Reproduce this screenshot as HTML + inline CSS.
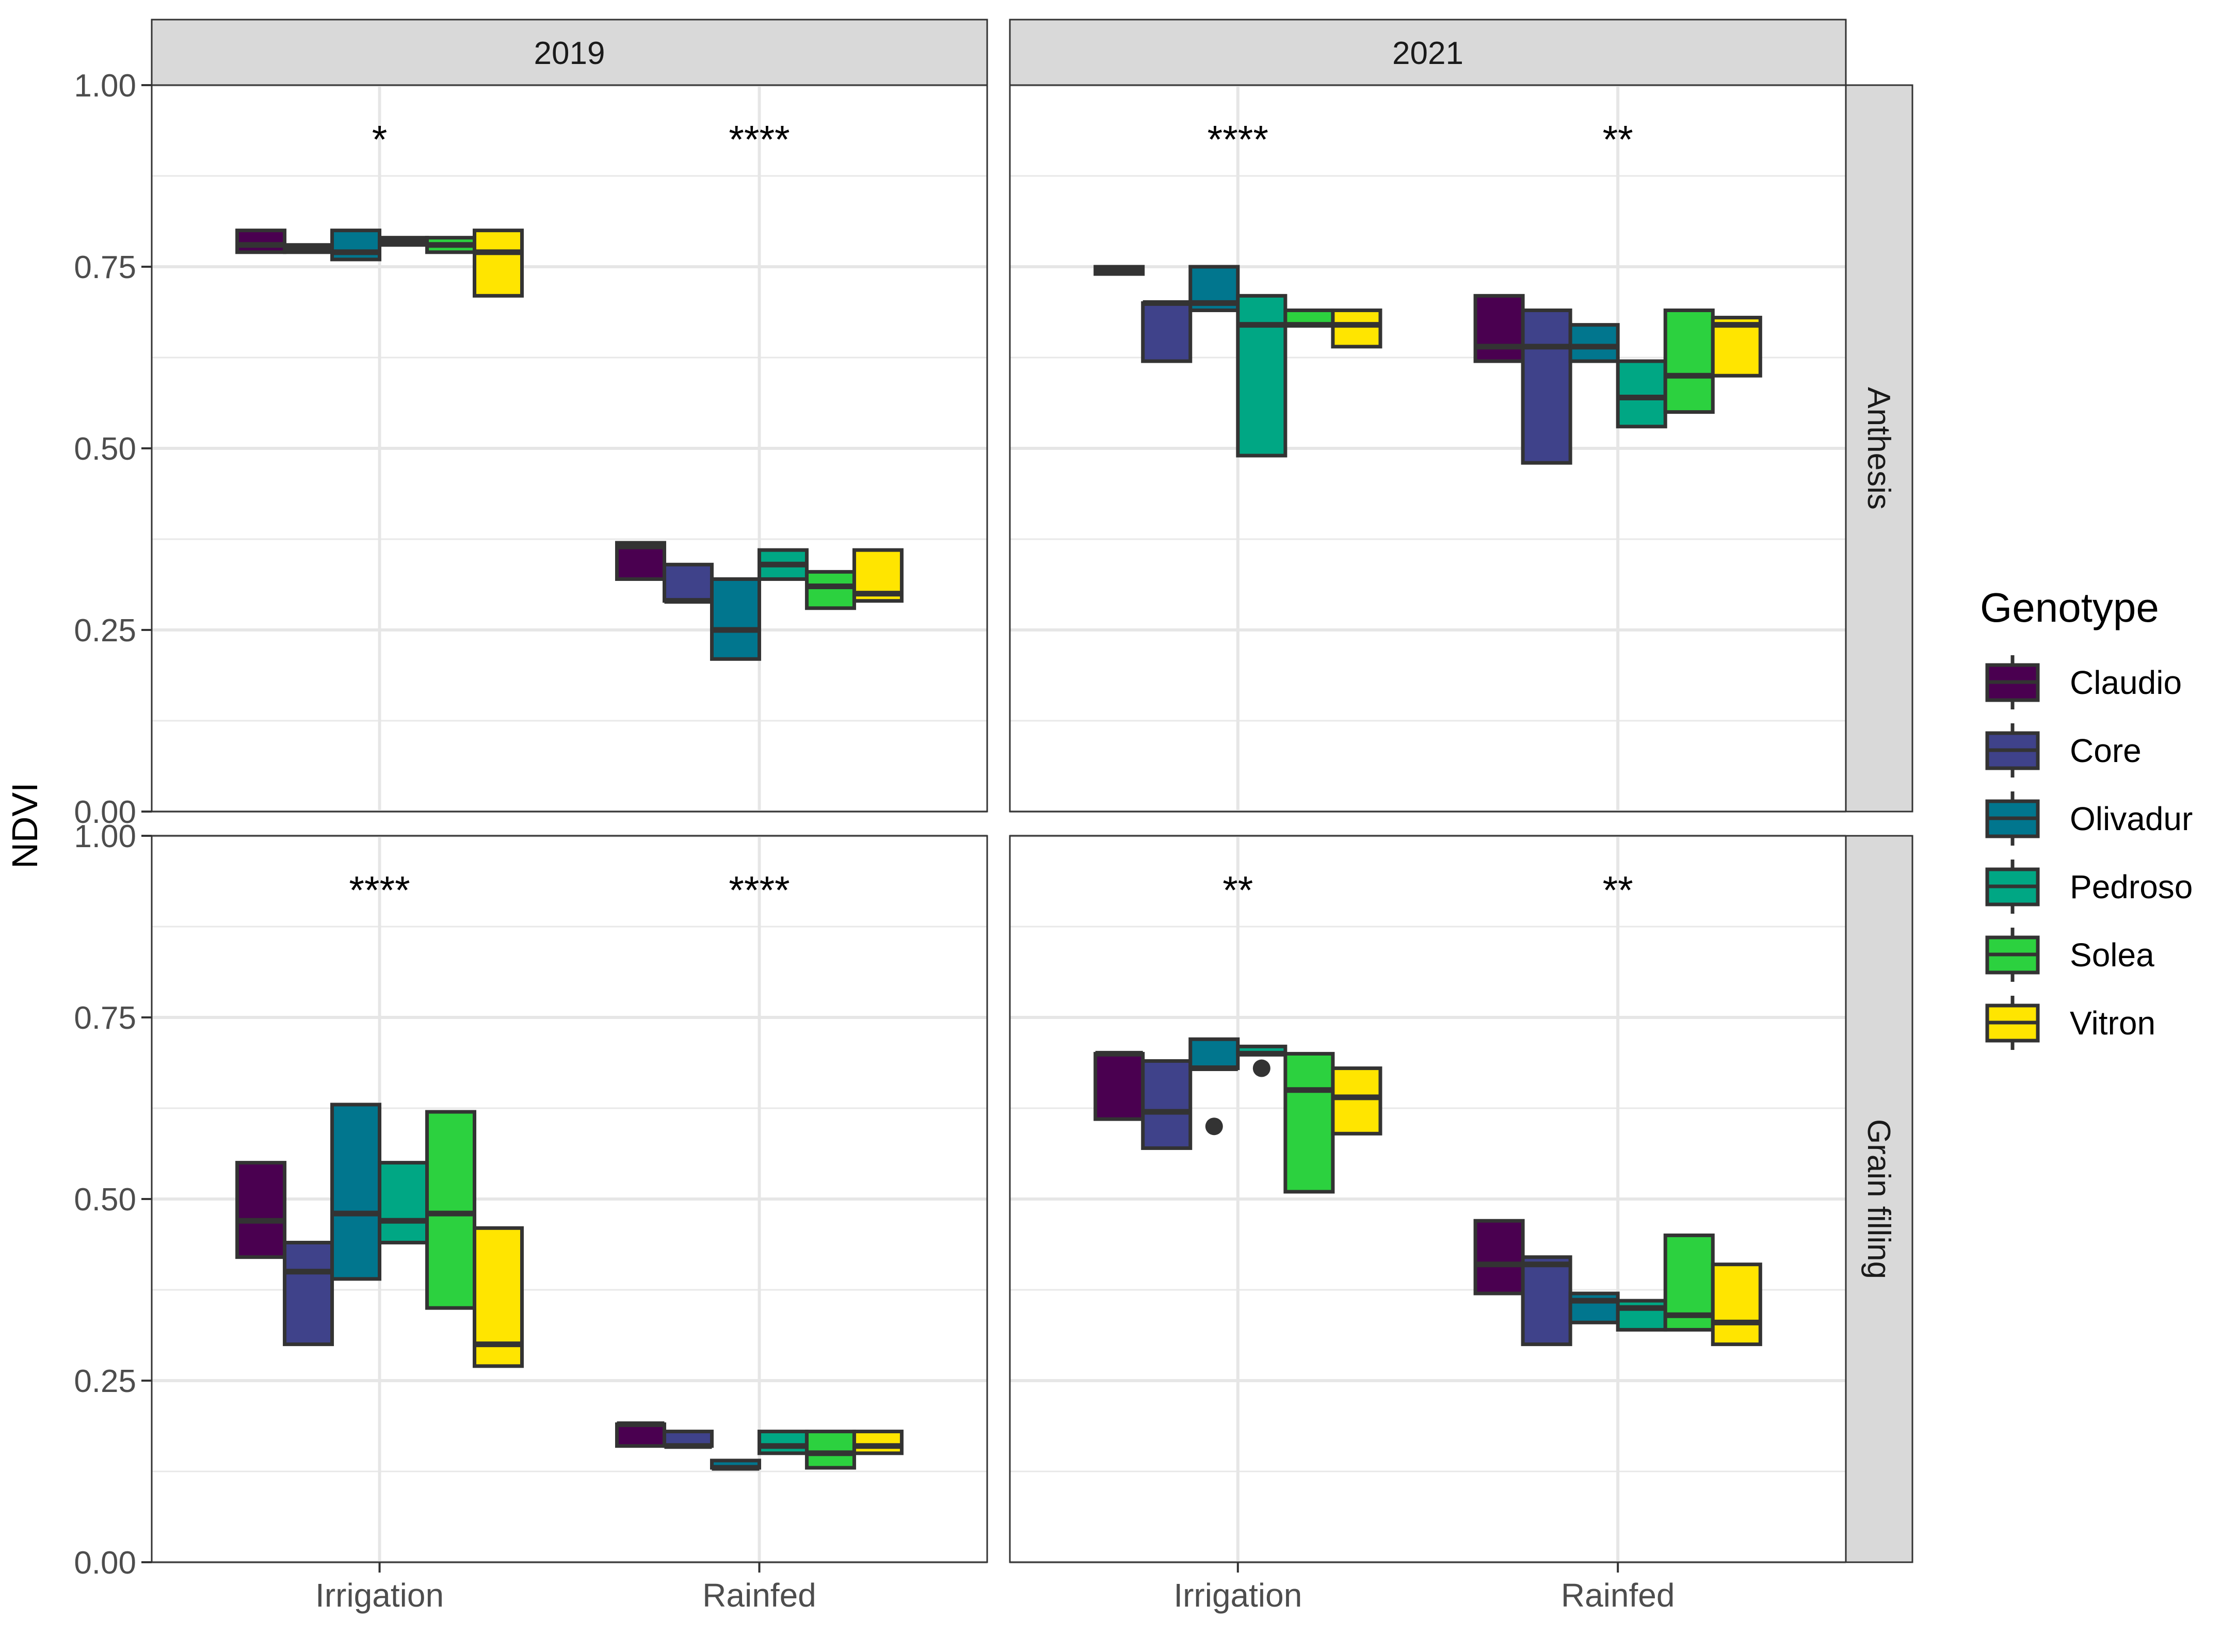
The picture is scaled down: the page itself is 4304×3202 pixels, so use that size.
<!DOCTYPE html>
<html><head><meta charset="utf-8">
<style>
html,body{margin:0;padding:0;background:#fff;}
svg{display:block;font-family:"Liberation Sans",Arial,sans-serif;}
</style></head>
<body>
<svg id="chart" width="4304" height="3202" viewBox="0 0 4304 3202" xmlns="http://www.w3.org/2000/svg"></svg>
<script>
const genotypes = ["Claudio","Core","Olivadur","Pedroso","Solea","Vitron"];
const colors = ["#4a0050","#3f428a","#01768e","#00a784","#2cd13f","#ffe500"];
const treatments = ["Irrigation","Rainfed"];
const years = ["2019","2021"];
const stages = ["Anthesis","Grain filling"];
const yTicks = [0, 0.25, 0.5, 0.75, 1.0];
const yTickLabels = ["0.00","0.25","0.50","0.75","1.00"];
// [q1, median, q3] per genotype
const a2019Irr = [[0.77,0.78,0.80],[0.77,0.775,0.78],[0.76,0.77,0.80],[0.78,0.785,0.79],[0.77,0.78,0.79],[0.71,0.77,0.80]];
const a2019Rain = [[0.32,0.365,0.37],[0.29,0.29,0.34],[0.21,0.25,0.32],[0.32,0.34,0.36],[0.28,0.31,0.33],[0.29,0.30,0.36]];
const a2021Irr = [[0.74,0.745,0.75],[0.62,0.70,0.70],[0.69,0.70,0.75],[0.49,0.67,0.71],[0.67,0.67,0.69],[0.64,0.67,0.69]];
const a2021Rain = [[0.62,0.64,0.71],[0.48,0.64,0.69],[0.62,0.64,0.67],[0.53,0.57,0.62],[0.55,0.60,0.69],[0.60,0.67,0.68]];
const g2019Irr = [[0.42,0.47,0.55],[0.30,0.40,0.44],[0.39,0.48,0.63],[0.44,0.47,0.55],[0.35,0.48,0.62],[0.27,0.30,0.46]];
const g2019Rain = [[0.16,0.19,0.19],[0.16,0.16,0.18],[0.13,0.13,0.14],[0.15,0.16,0.18],[0.13,0.15,0.18],[0.15,0.16,0.18]];
const g2021Irr = [[0.61,0.70,0.70],[0.57,0.62,0.69],[0.68,0.68,0.72],[0.70,0.70,0.71],[0.51,0.65,0.70],[0.59,0.64,0.68]];
const g2021Rain = [[0.37,0.41,0.47],[0.30,0.41,0.42],[0.33,0.36,0.37],[0.32,0.35,0.36],[0.32,0.34,0.45],[0.30,0.33,0.41]];
// outliers: [genotypeIndex, value]
const g2021IrrOutliers = [[2,0.60],[3,0.68]];
const sig2019A = ["*","****"], sig2021A = ["****","**"], sig2019G = ["****","****"], sig2021G = ["**","**"];

const NS="http://www.w3.org/2000/svg";
const svg=document.getElementById('chart');
function mk(tag,attrs,parent){const e=document.createElementNS(NS,tag);for(const k in attrs)e.setAttribute(k,attrs[k]);(parent||svg).appendChild(e);return e;}

const colX=[[294,1913],[1957,3577]];
const rowY=[[165,1573],[1620,3028]];
const panels=[
 {r:0,c:0,data:[a2019Irr,a2019Rain],sig:sig2019A,out:[[],[]]},
 {r:0,c:1,data:[a2021Irr,a2021Rain],sig:sig2021A,out:[[],[]]},
 {r:1,c:0,data:[g2019Irr,g2019Rain],sig:sig2019G,out:[[],[]]},
 {r:1,c:1,data:[g2021Irr,g2021Rain],sig:sig2021G,out:[g2021IrrOutliers,[]]}
];

panels.forEach(p=>{
  const [x0,x1]=colX[p.c],[y0,y1]=rowY[p.r];
  const xs=v=>x0+(v-0.4)/2.2*(x1-x0);
  const ys=v=>y1-v*(y1-y0);
  const g=mk('g',{});
  
  
  mk('rect',{x:x0,y:y0,width:x1-x0,height:y1-y0,fill:'#fff'},g);
  [0.125,0.375,0.625,0.875].forEach(v=>mk('line',{x1:x0,x2:x1,y1:ys(v),y2:ys(v),stroke:'#e8e8e8','stroke-width':3},g));
  yTicks.forEach(v=>{const l=mk('line',{x1:x0,x2:x1,y1:ys(v),y2:ys(v),stroke:'#e6e6e6','stroke-width':6},g);
    });
  [1,2].forEach(v=>mk('line',{x1:xs(v),x2:xs(v),y1:y0,y2:y1,stroke:'#e6e6e6','stroke-width':6},g));
  p.data.forEach((grp,ti)=>{
    const bw=0.75/6;
    grp.forEach((b,gi)=>{
      const cx=ti+1-0.375+bw*(gi+0.5);
      const bx=xs(cx-bw/2),bx2=xs(cx+bw/2);
      const r=mk('rect',{x:bx,y:ys(b[2]),width:bx2-bx,height:Math.max(ys(b[0])-ys(b[2]),1),fill:colors[gi],stroke:'#333','stroke-width':7},g);
      
      
      mk('line',{x1:bx,x2:bx2,y1:ys(b[1]),y2:ys(b[1]),stroke:'#333','stroke-width':11},g);
    });
    (p.out[ti]||[]).forEach(o=>{
      const cx=ti+1-0.375+bw*(o[0]+0.5);
      const c=mk('circle',{cx:xs(cx),cy:ys(o[1]),r:17,fill:'#333'},g);
      
    });
    const t=mk('text',{x:xs(ti+1),y:ys(0.928)+30,'text-anchor':'middle','font-size':76,fill:'#000'},g);
    t.textContent=p.sig[ti];
    
  });
  mk('rect',{x:x0,y:y0,width:x1-x0,height:y1-y0,fill:'none',stroke:'#333','stroke-width':3},g);
  if(p.c===0){yTicks.forEach((v,i)=>{
    mk('line',{x1:x0-20,x2:x0,y1:ys(v),y2:ys(v),stroke:'#333','stroke-width':4});
    const t=mk('text',{x:x0-30,y:ys(v)+22,'text-anchor':'end','font-size':62,fill:'#4d4d4d'});
    t.textContent=yTickLabels[i];
    
  });}
  if(p.r===1){[1,2].forEach((v,i)=>{
    mk('line',{x1:xs(v),x2:xs(v),y1:y1,y2:y1+20,stroke:'#333','stroke-width':4});
    const t=mk('text',{x:xs(v),y:3114,'text-anchor':'middle','font-size':64,fill:'#4d4d4d'});
    t.textContent=treatments[i];
    
  });}
});
years.forEach((yr,i)=>{
  const [x0,x1]=colX[i];
  const r=mk('rect',{x:x0,y:38,width:x1-x0,height:127,fill:'#d9d9d9',stroke:'#333','stroke-width':3});
  
  const t=mk('text',{x:(x0+x1)/2,y:124,'text-anchor':'middle','font-size':62,fill:'#1a1a1a'});
  t.textContent=yr;
});
stages.forEach((st,i)=>{
  const [y0,y1]=rowY[i];
  const r=mk('rect',{x:3577,y:y0,width:129,height:y1-y0,fill:'#d9d9d9',stroke:'#333','stroke-width':3});
  
  const cy=(y0+y1)/2;
  const t=mk('text',{x:3620,y:cy,'text-anchor':'middle','font-size':62,fill:'#1a1a1a',transform:`rotate(90 3620 ${cy})`});
  t.textContent=st;
});
const yt=mk('text',{x:72,y:1600,'text-anchor':'middle','font-size':70,fill:'#000',transform:'rotate(-90 72 1600)'});
yt.textContent='NDVI';


const lt=mk('text',{x:3837,y:1205,'font-size':80,fill:'#000'});
lt.textContent='Genotype';


genotypes.forEach((gn,i)=>{
  const cy=1322+i*132;
  const g=mk('g',{});
  
  
  mk('line',{x1:3900,x2:3900,y1:cy-52,y2:cy+53,stroke:'#333','stroke-width':7},g);
  mk('rect',{x:3851,y:cy-33,width:98,height:68,fill:colors[i],stroke:'#333','stroke-width':7},g);
  mk('line',{x1:3851,x2:3949,y1:cy,y2:cy,stroke:'#333','stroke-width':7},g);
  const t=mk('text',{x:4011,y:cy+23,'font-size':64,fill:'#000'},g);
  t.textContent=gn;
});
</script>
</body></html>
